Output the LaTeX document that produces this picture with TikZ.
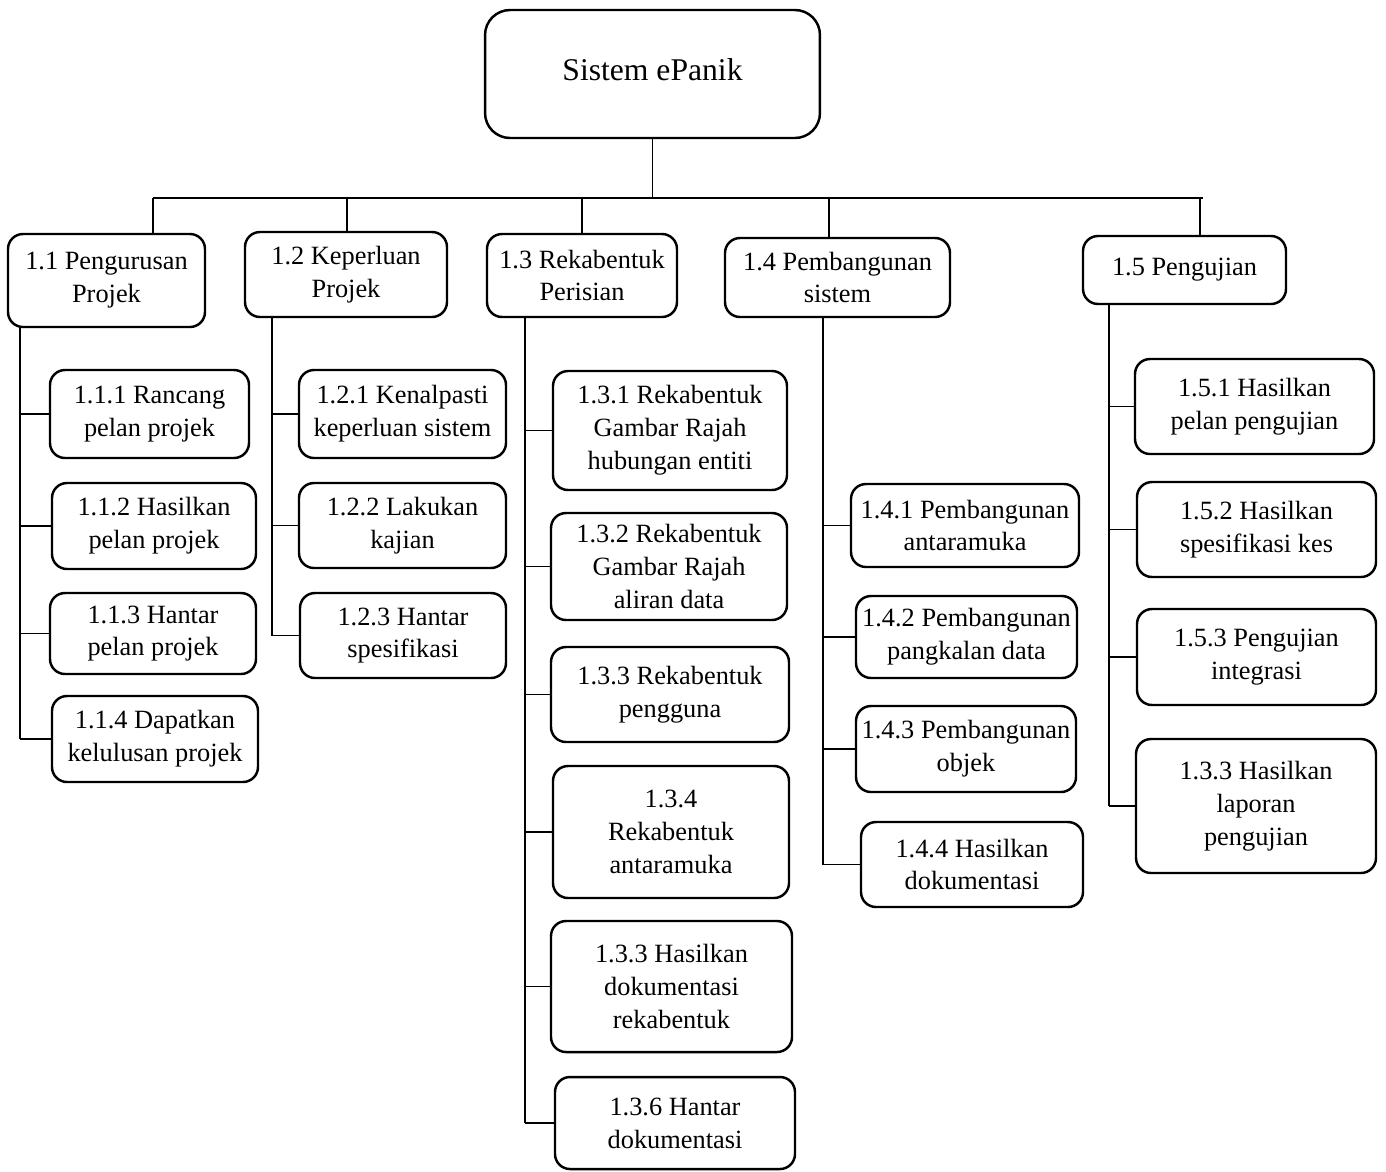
\documentclass[tikz,border=0pt]{standalone}
\usepackage{fontspec}
\setmainfont{Liberation Serif}
\usetikzlibrary{positioning}
\tikzset{
	task/.style={draw, line width=1.4pt, rounded corners=0.3cm, align=center, inner sep=0pt, font=\fontsize{15}{18.7}\selectfont},
	link/.style={line width=0.7pt}
}
\newcommand{\taskbox}[6]{\node[task, minimum width={(#4-#2)*0.02cm}, minimum height={(#5-#3)*0.02cm}] (#1) at ({(#2+#4)/2},{(#3+#5)/2}) {#6};}
\newcommand{\branch}[2]{\draw[link] (#1 |- #2.west) -- (#2.west);}

\begin{document}
\begin{tikzpicture}[x=0.02cm, y=-0.02cm]

					\useasboundingbox (0,0) rectangle (1386,1171);

					\node[task, rounded corners=0.5cm, minimum width=6.7cm, minimum height=2.56cm, font=\fontsize{18}{22}\selectfont] (root) at (652.5,74) {\raisebox{0.18cm}{Sistem ePanik}};

					\taskbox{p11}{8}{234}{205}{327}{1.1 Pengurusan\\Projek}
					\taskbox{p12}{245}{232}{447}{317}{1.2 Keperluan\\Projek}
					\taskbox{p13}{487}{234}{677}{317}{1.3 Rekabentuk\\Perisian}
					\taskbox{p14}{725}{238}{950}{317}{1.4 Pembangunan\\sistem}
					\taskbox{p15}{1083}{236}{1286}{304}{1.5 Pengujian}

					\taskbox{c111}{50}{370}{249}{458}{1.1.1 Rancang\\pelan projek}
					\taskbox{c112}{52}{483}{256}{569}{1.1.2 Hasilkan\\pelan projek}
					\taskbox{c113}{50}{593}{256}{674}{1.1.3 Hantar\\pelan projek}
					\taskbox{c114}{52}{696}{258}{782}{1.1.4 Dapatkan\\kelulusan projek}

					\taskbox{c121}{299}{370}{506}{458}{1.2.1 Kenalpasti\\keperluan sistem}
					\taskbox{c122}{299}{483}{506}{568}{1.2.2 Lakukan\\kajian}
					\taskbox{c123}{300}{593}{506}{678}{1.2.3 Hantar\\spesifikasi}

					\taskbox{c131}{553}{371}{787}{490}{1.3.1 Rekabentuk\\Gambar Rajah\\hubungan entiti}
					\taskbox{c132}{551}{513}{787}{620}{1.3.2 Rekabentuk\\Gambar Rajah\\aliran data}
					\taskbox{c133}{551}{647}{789}{742}{1.3.3 Rekabentuk\\pengguna}
					\taskbox{c134}{553}{766}{789}{898}{1.3.4\\Rekabentuk\\antaramuka}
					\taskbox{c135}{551}{921}{792}{1052}{1.3.3 Hasilkan\\dokumentasi\\rekabentuk}
					\taskbox{c136}{555}{1077}{795}{1169}{1.3.6 Hantar\\dokumentasi}

					\taskbox{c141}{851}{484}{1079}{567}{1.4.1 Pembangunan\\antaramuka}
					\taskbox{c142}{856}{596}{1077}{678}{1.4.2 Pembangunan\\pangkalan data}
					\taskbox{c143}{856}{706}{1076}{792}{1.4.3 Pembangunan\\objek}
					\taskbox{c144}{861}{822}{1083}{907}{1.4.4 Hasilkan\\dokumentasi}

					\taskbox{c151}{1135}{359}{1374}{454}{1.5.1 Hasilkan\\pelan pengujian}
					\taskbox{c152}{1137}{482}{1376}{577}{1.5.2 Hasilkan\\spesifikasi kes}
					\taskbox{c153}{1137}{609}{1376}{705}{1.5.3 Pengujian\\integrasi}
					\taskbox{c154}{1136}{739}{1376}{873}{1.3.3 Hasilkan\\laporan\\pengujian}

					\coordinate (busL) at (153,198);
					\coordinate (busR) at (1203,198);
					\coordinate (d12) at (347,198);
					\coordinate (d13) at (582,198);
					\coordinate (d14) at (829,198);
					\coordinate (d15) at (1200,198);

					\draw[link] (root.south) -- (root.south |- busL);
					\draw[link] (busL) -- (busR);
					\draw[link] (busL) -- (busL |- p11.north);
					\draw[link] (d12) -- (d12 |- p12.north);
					\draw[link] (d13) -- (d13 |- p13.north);
					\draw[link] (d14) -- (d14 |- p14.north);
					\draw[link] (d15) -- (d15 |- p15.north);

					\coordinate (s11) at (20,0);
					\coordinate (s12) at (272,0);
					\coordinate (s13) at (525,0);
					\coordinate (s14) at (823,0);
					\coordinate (s15) at (1109,0);

					\draw[link] (s11 |- p11.south) -- (s11 |- c114.west);
					\branch{s11}{c111}
					\branch{s11}{c112}
					\branch{s11}{c113}
					\branch{s11}{c114}

					\draw[link] (s12 |- p12.south) -- (s12 |- c123.west);
					\branch{s12}{c121}
					\branch{s12}{c122}
					\branch{s12}{c123}

					\draw[link] (s13 |- p13.south) -- (s13 |- c136.west);
					\branch{s13}{c131}
					\branch{s13}{c132}
					\branch{s13}{c133}
					\branch{s13}{c134}
					\branch{s13}{c135}
					\branch{s13}{c136}

					\draw[link] (s14 |- p14.south) -- (s14 |- c144.west);
					\branch{s14}{c141}
					\branch{s14}{c142}
					\branch{s14}{c143}
					\branch{s14}{c144}

					\draw[link] (s15 |- p15.south) -- (s15 |- c154.west);
					\branch{s15}{c151}
					\branch{s15}{c152}
					\branch{s15}{c153}
					\branch{s15}{c154}

				\end{tikzpicture}
\end{document}
